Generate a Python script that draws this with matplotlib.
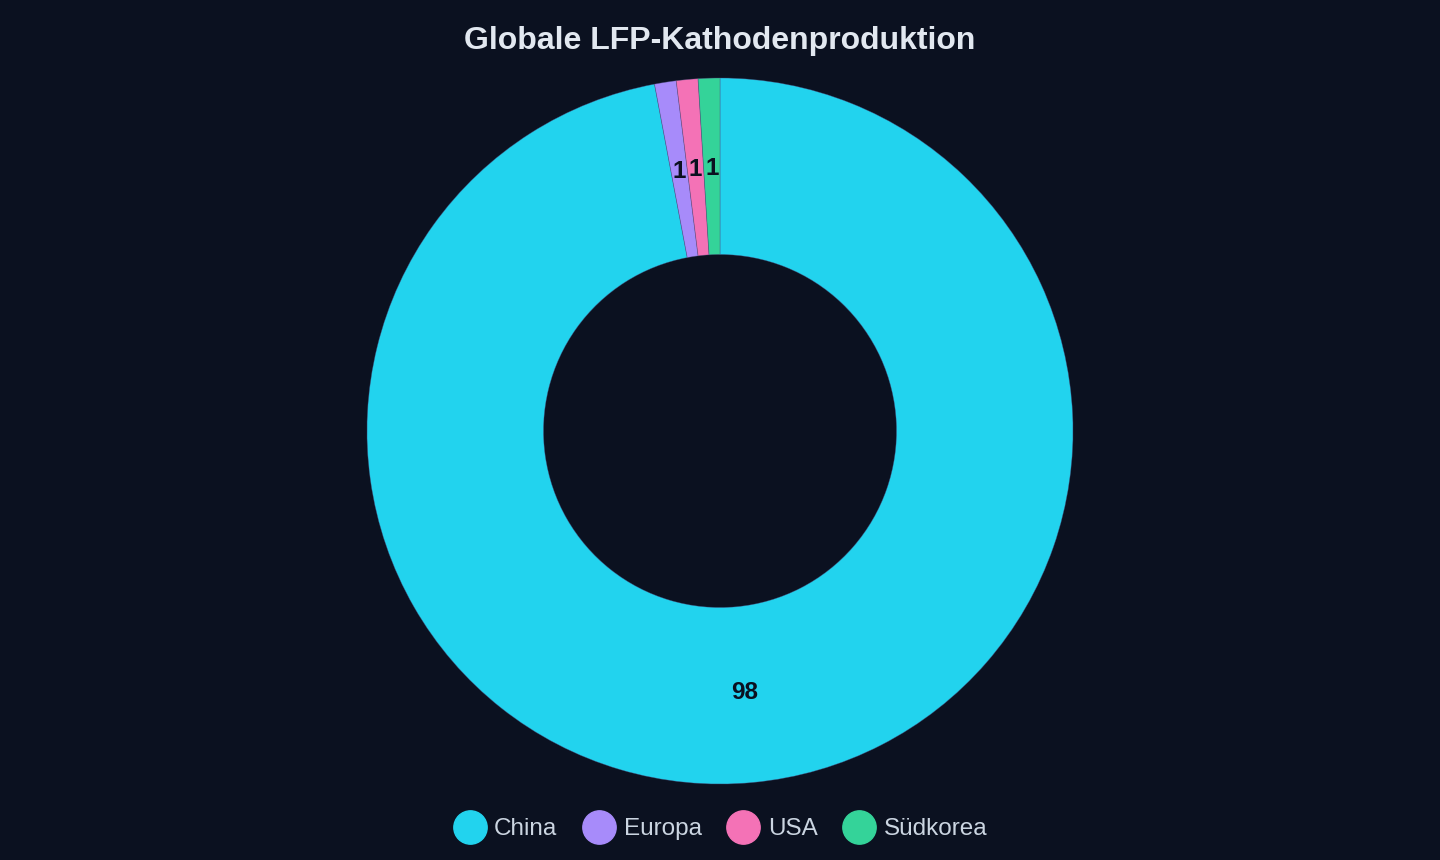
import matplotlib.pyplot as plt
from matplotlib.lines import Line2D

plt.rcParams['font.family'] = ['Liberation Sans', 'DejaVu Sans']

regions = ['China', 'Europa', 'USA', 'Südkorea']
values = [98, 1, 1, 1]
colors = ['#22d3ee', '#a78bfa', '#f472b6', '#34d399']

bg = '#0b1120'
W, H = 1440, 860
cx, cy, r = 720, 431, 353

fig = plt.figure(figsize=(W / 100, H / 100), dpi=100, facecolor=bg)
ax = fig.add_axes([(cx - r) / W, (H - cy - r) / H, 2 * r / W, 2 * r / H])
ax.set_facecolor(bg)

total = sum(values)
wedges, texts, autotexts = ax.pie(
    values, colors=colors, startangle=90, counterclock=False, radius=1,
    autopct=lambda p: f'{round(p * total / 100):d}', pctdistance=0.745,
    wedgeprops=dict(width=0.5, edgecolor=(0.3, 0.3, 0.5, 0.5), linewidth=0.5),
    textprops=dict(color='#0b1120', fontsize=17.5, fontweight='bold'))
ax.set_xlim(-1, 1)
ax.set_ylim(-1, 1)
ax.axis('off')

fig.text(0.5, 1 - 41.5 / H, 'Globale LFP-Kathodenproduktion', ha='center', va='center',
         fontsize=23, fontweight='bold', color='#e2e8f0')

handles = [Line2D([0], [0], marker='o', linestyle='none', markersize=24,
                  markerfacecolor=c, markeredgecolor=c) for c in colors]
leg = fig.legend(handles, regions, loc='center', bbox_to_anchor=(0.5, 1 - 829 / H),
                 ncol=4, frameon=False, fontsize=17.5, labelcolor='#cbd5e1',
                 handletextpad=0.3, columnspacing=1.02, handlelength=1.4)

fig.savefig('out.png', dpi=100, facecolor=bg)
